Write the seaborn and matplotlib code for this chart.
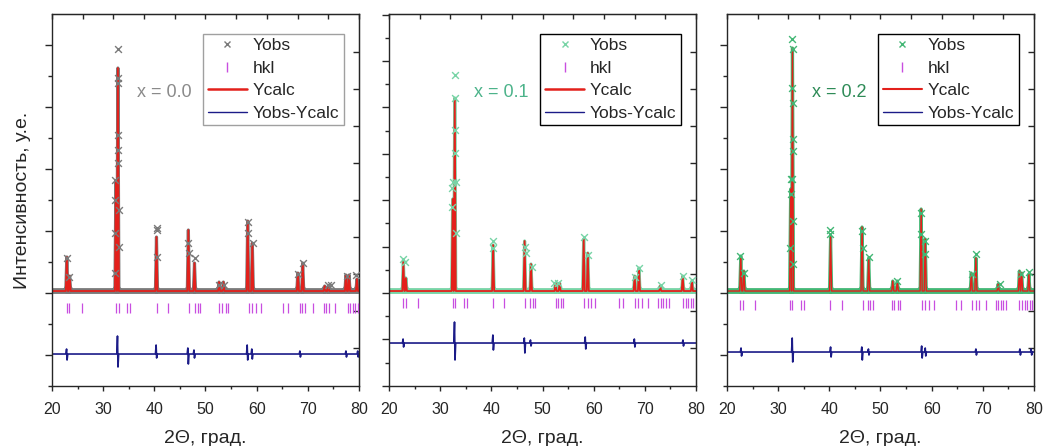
import numpy as np
import pandas as pd
import seaborn as sns
import matplotlib.pyplot as plt
from matplotlib.lines import Line2D
from matplotlib.ticker import MultipleLocator, FixedLocator

sns.set_style('ticks')
plt.rcParams['font.family'] = ['Liberation Sans', 'DejaVu Sans']

# ---------------- data ----------------
samples = ['x = 0.0', 'x = 0.1', 'x = 0.2']

# calculated profile: peak positions (2theta) and heights (a.u.)
calc_pos_0 = [22.9, 23.45, 32.5, 32.88, 40.42, 46.65, 47.85, 52.65, 53.5, 58.25, 59.15,
              68.05, 69.0, 73.3, 74.0, 77.45, 78.05, 79.6]
calc_int_0 = [3400, 1500, 11000, 22300, 5400, 6100, 2800, 900, 900, 7000, 4800,
              1800, 2800, 500, 500, 1600, 1600, 1200]
calc_pos_1 = [22.8, 23.3, 32.45, 32.85, 40.35, 46.5, 47.75, 52.55, 53.35, 58.05, 58.85,
              68.0, 68.85, 73.0, 77.4, 79.2]
calc_int_1 = [3000, 1300, 9200, 19300, 4600, 5000, 2700, 800, 800, 5200, 3800,
              1500, 2300, 500, 1500, 1000]
calc_pos_2 = [22.7, 23.3, 32.45, 32.8, 40.25, 46.4, 47.7, 52.4, 53.3, 57.95, 58.75,
              67.75, 68.65, 73.0, 77.15, 77.6, 79.0]
calc_int_2 = [3500, 2000, 10200, 24300, 5400, 6400, 3300, 1000, 1000, 8200, 5200,
              1800, 3300, 700, 2000, 1800, 1700]

# observed points standing out of the dense band
obs_x_0 = [22.9, 23.4, 32.3, 32.4, 32.4, 32.4, 32.9, 32.9, 32.92, 32.92, 32.95, 32.97, 33.07,
           33.07, 40.46, 40.5, 40.46, 46.5, 46.7, 47.94, 52.7, 53.7, 58.3, 58.4, 59.3, 68.0,
           69.1, 73.9, 74.6, 77.6, 79.4]
obs_y_0 = [3270, 1400, 1800, 5800, 9100, 11100, 21270, 20770, 24200, 14100, 15600, 12770, 8100,
           4400, 6270, 6100, 3400, 4770, 3770, 3270, 600, 600, 6930, 5770, 4770, 1700,
           2770, 600, 600, 1500, 1600]
obs_x_1 = [22.8, 23.1, 32.4, 32.4, 32.57, 32.9, 32.9, 32.9, 32.9, 33.0, 33.1, 40.38, 40.38,
           46.58, 46.7, 47.89, 52.3, 53.1, 58.17, 58.9, 68.0, 68.92, 73.2, 77.4, 79.2]
obs_y_1 = [3170, 2900, 10270, 8430, 10930, 21600, 19270, 16100, 13770, 10900, 5770, 5000, 4270,
           4430, 3770, 2430, 770, 770, 5370, 3600, 1400, 2270, 600, 1500, 1100]
obs_x_2 = [22.6, 23.4, 32.35, 32.5, 32.6, 32.68, 32.68, 32.7, 32.85, 32.85, 32.85, 32.85, 32.9,
           32.95, 40.22, 40.22, 46.4, 46.5, 47.83, 53.2, 57.91, 58.0, 58.8, 58.8, 67.8, 68.63,
           73.3, 77.4, 79.03]
obs_y_2 = [3500, 1830, 4330, 9670, 11170, 25230, 20330, 11170, 24170, 18830, 15170, 14000, 7000,
           2670, 6070, 5670, 6000, 4330, 3400, 1000, 7830, 5670, 5000, 3670, 1670, 3730,
           700, 1670, 1930]

# Bragg reflection positions
hkl_0 = [22.89, 23.34, 25.84, 32.59, 33.05, 34.69, 35.34, 40.46, 42.69, 46.82, 48.0, 48.46,
         48.98, 52.72, 53.18, 54.03, 54.36, 58.5, 59.15, 59.94, 60.92, 65.19, 66.17, 68.46,
         68.93, 69.45, 71.09, 73.12, 73.64, 74.23, 75.34, 77.84, 78.3, 78.76, 79.27, 79.8]
hkl_1 = [22.8, 23.32, 25.73, 32.44, 32.9, 34.66, 35.31, 40.39, 42.47, 46.58, 47.56, 48.08,
         48.53, 52.57, 53.09, 53.55, 54.07, 58.17, 58.83, 59.48, 60.26, 65.01, 65.79, 68.08,
         68.73, 69.38, 70.68, 72.63, 73.15, 73.61, 74.13, 74.79, 77.52, 78.04, 78.5, 78.95, 79.47]
hkl_2 = [22.61, 23.13, 25.53, 32.23, 32.75, 34.5, 35.15, 40.22, 42.43, 46.53, 47.5, 48.02,
         48.48, 52.25, 52.7, 53.35, 53.87, 58.1, 58.75, 59.53, 60.5, 64.73, 65.7, 67.85,
         68.63, 69.28, 70.58, 72.53, 73.05, 73.5, 73.96, 74.61, 77.08, 77.6, 78.25, 78.7,
         79.22, 79.68]

# difference curve: spike positions, up / down amplitudes, offset level
diff_pos_0 = [22.9, 32.85, 40.4, 46.6, 47.8, 58.2, 59.1, 68.5, 77.5, 79.8]
diff_up_0 = [500, 1800, 900, 600, 400, 900, 500, 300, 300, 300]
diff_dn_0 = [600, 1300, 400, 1000, 400, 600, 500, 300, 300, 300]
diff_pos_1 = [22.8, 32.85, 40.35, 46.5, 47.7, 58.4, 68.0, 77.5]
diff_up_1 = [400, 2100, 800, 500, 300, 600, 400, 300]
diff_dn_1 = [400, 1700, 700, 1000, 300, 600, 400, 300]
diff_pos_2 = [22.8, 32.8, 40.3, 46.4, 47.7, 58.1, 58.8, 68.7, 77.3, 79.5]
diff_up_2 = [400, 1400, 500, 500, 300, 600, 400, 300, 300, 300]
diff_dn_2 = [400, 1000, 500, 800, 300, 600, 400, 300, 300, 300]
diff_level = [-6300, -5200, -6100]
hkl_level = [-1700, -1200, -1350]

# ---------------- styling ----------------
obs_colors = ['#7a7a7a', '#78d4a6', '#43b775']
label_colors = ['#8a8a8a', '#4cb38a', '#2e8b57']
legend_edges = ['#a0a0a0', 'black', 'black']
calc_lw = [1.3, 1.3, 1.0]
red = '#e3201b'
navy = '#1b1b88'
hkl_color = '#c84ee0'

panels = [
    dict(cpos=calc_pos_0, cint=calc_int_0, ox=obs_x_0, oy=obs_y_0, hkl=hkl_0,
         dpos=diff_pos_0, dup=diff_up_0, ddn=diff_dn_0, left=0.0497, major=6200),
    dict(cpos=calc_pos_1, cint=calc_int_1, ox=obs_x_1, oy=obs_y_1, hkl=hkl_1,
         dpos=diff_pos_1, dup=diff_up_1, ddn=diff_dn_1, left=0.3719, major=4640),
    dict(cpos=calc_pos_2, cint=calc_int_2, ox=obs_x_2, oy=obs_y_2, hkl=hkl_2,
         dpos=diff_pos_2, dup=diff_up_2, ddn=diff_dn_2, left=0.6950, major=6200),
]


def profile(pos, height, half=0.2):
    xs, ys = [20.0], [0.0]
    for p, h in sorted(zip(pos, height)):
        xs += [p - half, p, p + half]
        ys += [0.0, h, 0.0]
    xs.append(80.0)
    ys.append(0.0)
    return pd.DataFrame({'two_theta': xs, 'intensity': ys})


def difference(pos, up, down, base, half=0.18):
    xs, ys = [20.0], [base]
    for p, u, d in zip(pos, up, down):
        xs += [p - half, p - 0.05, p + 0.05, p + half]
        ys += [base, base + u, base - d, base]
    xs.append(80.0)
    ys.append(base)
    return pd.DataFrame({'two_theta': xs, 'intensity': ys})


fig = plt.figure(figsize=(10.46, 4.46), dpi=100)

for i, pn in enumerate(panels):
    ax = fig.add_axes([pn['left'], 0.1345, 0.2935, 0.834])
    calc = profile(pn['cpos'], pn['cint'])
    band = calc.assign(intensity=calc['intensity'].clip(upper=250))

    # dense observed points: thick band along the background, thinner along the peaks
    sns.lineplot(data=band, x='two_theta', y='intensity', sort=False, estimator=None,
                 color=obs_colors[i], lw=4.2, ax=ax, zorder=1)
    sns.lineplot(data=calc, x='two_theta', y='intensity', sort=False, estimator=None,
                 color=obs_colors[i], lw=2.3, ax=ax, zorder=1)
    sns.lineplot(data=calc, x='two_theta', y='intensity', sort=False, estimator=None,
                 color=red, lw=calc_lw[i], ax=ax, zorder=2)
    sns.scatterplot(x=pn['ox'], y=pn['oy'], marker='x', s=24, linewidth=1.0,
                    color=obs_colors[i], ax=ax, zorder=3)
    sns.scatterplot(x=pn['hkl'], y=[hkl_level[i]] * len(pn['hkl']), marker='|', s=55,
                    linewidth=0.9, color=hkl_color, ax=ax, zorder=3)
    diff = difference(pn['dpos'], pn['dup'], pn['ddn'], diff_level[i])
    sns.lineplot(data=diff, x='two_theta', y='intensity', sort=False, estimator=None,
                 color=navy, lw=1.2, ax=ax, zorder=2)

    ax.set_xlim(20, 80)
    ax.set_ylim(-9500, 27700)
    ax.set_xticks(np.arange(20, 81, 10))
    ax.xaxis.set_minor_locator(MultipleLocator(5))
    ax.yaxis.set_major_locator(FixedLocator(np.arange(-200 - 2 * pn['major'], 27700, pn['major'])))
    ax.yaxis.set_minor_locator(FixedLocator(np.arange(-200 - 1.5 * pn['major'], 27700, pn['major'])))
    ax.tick_params(axis='x', which='major', direction='out', length=3.6, width=1,
                   labelsize=11.5, pad=8, top=False)
    ax.tick_params(axis='x', which='minor', direction='out', length=2.2, width=1, top=False)
    ax.tick_params(axis='y', which='major', direction='out', length=5, width=1,
                   labelleft=False, right=False)
    ax.tick_params(axis='y', which='minor', direction='out', length=2.6, width=1, right=False)
    for sp in ax.spines.values():
        sp.set_visible(True)
        sp.set_linewidth(1.0)

    top = ax.secondary_xaxis('top')
    top.set_xticks(np.arange(20, 81, 6))
    top.tick_params(direction='in', length=3.5, width=1, labeltop=False)
    right = ax.secondary_yaxis('right')
    right.set_yticks(np.arange(-5700, 26000, 3700))
    right.tick_params(direction='in', length=4, width=1, labelright=False)

    ax.set_xlabel('2Θ, град.', fontsize=14, labelpad=9)
    if i == 0:
        ax.set_ylabel('Интенсивность, у.е.', fontsize=14, labelpad=9)
    else:
        ax.set_ylabel('')

    ax.text(0.366, 0.79, samples[i], transform=ax.transAxes, ha='center', va='center',
            fontsize=13, color=label_colors[i])

    handles = [
        Line2D([], [], ls='none', marker='x', color=obs_colors[i], ms=5, mew=1),
        Line2D([], [], ls='none', marker='|', color=hkl_color, ms=7, mew=1),
        Line2D([], [], color=red, lw=calc_lw[i] + 0.5),
        Line2D([], [], color=navy, lw=1),
    ]
    leg = ax.legend(handles, ['Yobs', 'hkl', 'Ycalc', 'Yobs-Ycalc'], loc='upper right',
                    bbox_to_anchor=(0.95, 0.947), borderaxespad=0, fontsize=12.5,
                    frameon=True, fancybox=False, framealpha=1, edgecolor=legend_edges[i],
                    borderpad=0.25, labelspacing=0.42, handlelength=2.3, handletextpad=0.3)
    leg.get_frame().set_linewidth(1.0)

fig.savefig('out.png', dpi=100)
